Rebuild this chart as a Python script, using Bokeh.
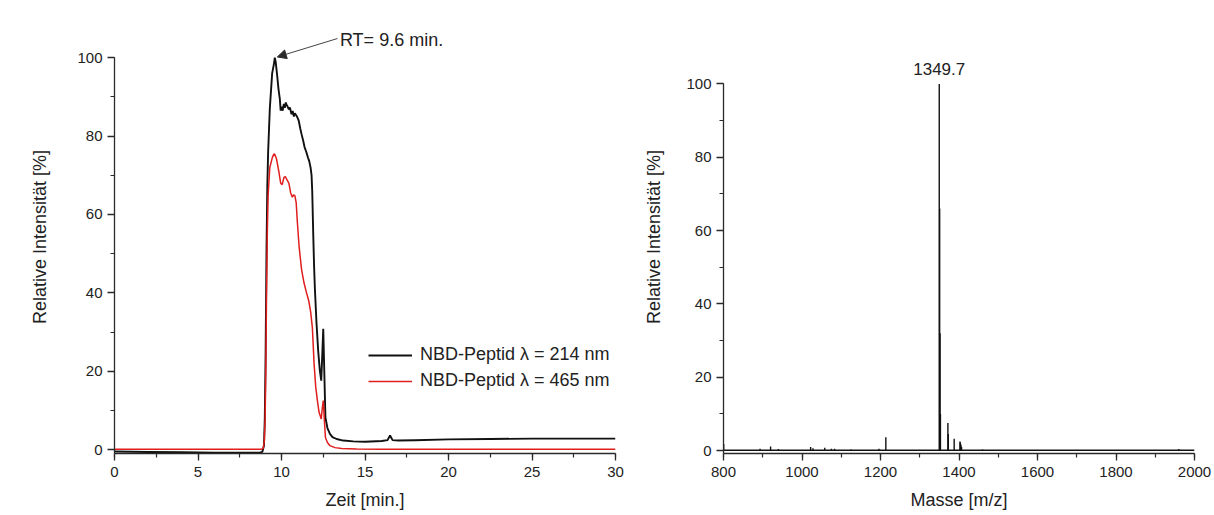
from bokeh.plotting import figure
from bokeh.layouts import row
from bokeh.models import (Range1d, SingleIntervalTicker, Label, Arrow, NormalHead)
from bokeh.embed import file_html
from bokeh.resources import INLINE

# ---------------- data: HPLC chromatogram ----------------
t214 = [0, 2, 4, 6, 8, 8.7, 8.85, 8.95, 9.0, 9.05, 9.1, 9.15, 9.2, 9.3, 9.44, 9.55, 9.6, 9.65,
        9.74, 9.82, 9.9, 9.95, 10.0, 10.07, 10.14, 10.2, 10.26, 10.3, 10.36, 10.44, 10.5, 10.6,
        10.67, 10.74, 10.8, 10.9, 10.97, 11.04, 11.12, 11.2, 11.3, 11.38, 11.48, 11.58, 11.66,
        11.74, 11.8, 11.84, 11.9, 11.95, 12.0, 12.1, 12.2, 12.3, 12.38, 12.44, 12.5, 12.55,
        12.63, 12.75, 12.9, 13.05, 13.3, 13.7, 14.3, 15.0, 16.0, 16.35, 16.5, 16.65, 17.0,
        18.0, 20.0, 22.5, 25.0, 27.5, 30.0]
a214 = [-0.5, -0.6, -0.7, -0.8, -0.8, -0.8, -0.6, 1, 8, 25, 50, 67, 76, 87, 96, 98.5, 100, 99,
        95.5, 92, 89.5, 86.5, 87.5, 86.5, 88.2, 87.2, 88.6, 88, 87.6, 86.8, 87.3, 85.6,
        86.4, 85.0, 85.8, 85.2, 84.6, 83.8, 82, 80.5, 78.8, 77.2, 76, 74.6, 73.6,
        72, 70, 66, 55, 47, 41, 32, 25, 20, 17.6, 24, 30.8, 22,
        8.2, 5.5, 4.0, 3.2, 2.7, 2.3, 2.1, 2.0, 2.2, 2.4, 3.6, 2.4, 2.3,
        2.4, 2.6, 2.7, 2.8, 2.8, 2.8]

t465 = [0, 5, 8.8, 8.9, 8.97, 9.02, 9.06, 9.1, 9.15, 9.2, 9.3, 9.45, 9.55, 9.6, 9.7, 9.84,
        9.95, 10.04, 10.15, 10.24, 10.33, 10.44, 10.55, 10.65, 10.72, 10.8, 10.88, 10.95,
        11.05, 11.2, 11.35, 11.5, 11.63, 11.75, 11.85, 11.95, 12.05, 12.15, 12.25, 12.38,
        12.44, 12.5, 12.56, 12.63, 12.75, 12.9, 13.2, 13.6, 14.5, 16, 20, 25, 30]
a465 = [0.1, 0.1, 0.1, 0.3, 2, 8, 20, 38, 55, 65, 72, 74.5, 75.5, 75.3, 74.2, 71,
        68, 67.6, 69.5, 69.6, 68.8, 68, 65.5, 64.4, 65.0, 64.8, 63, 58,
        52, 46, 42.5, 40, 38, 35, 31, 22, 16, 12.5, 9.5, 7.8,
        10.5, 12.5, 8, 3.1, 1.8, 1.0, 0.5, 0.3, 0.15, 0.1, 0.1, 0.1, 0.1]

legend_214 = "NBD-Peptid \u03bb = 214 nm"
legend_465 = "NBD-Peptid \u03bb = 465 nm"
rt_text = "RT= 9.6 min."

# ---------------- data: mass spectrum ----------------
ms_mz = [800.5, 893, 920, 940, 1022, 1028, 1058, 1075, 1083, 1125, 1196, 1213.6,
         1349.7, 1350.7, 1351.7, 1352.7, 1371.7, 1372.7, 1387.7, 1402.5, 1403.5,
         1405, 1406.5, 1460, 1960]
ms_int = [1.8, 0.5, 1.1, 0.4, 1.0, 0.6, 0.8, 0.5, 0.5, 0.3, 0.5, 3.6,
          100, 66, 32, 10, 7.5, 4.5, 3.2, 2.5, 2.2,
          1.6, 1.0, 0.3, 0.4]
ms_base_mz = [800, 2000]
ms_base_int = [0.1, 0.1]
peak_label = "1349.7"
peak_mz = 1349.7

FONT = "Liberation Sans"
TXT = "#222222"
AX = "#2a2a2a"


def style(p, xlabel, ylabel, xint, yint, ylab_standoff):
    p.xgrid.visible = False
    p.ygrid.visible = False
    p.outline_line_color = None
    p.background_fill_color = "white"
    p.border_fill_color = "white"
    p.xaxis.ticker = SingleIntervalTicker(interval=xint, num_minor_ticks=2)
    p.yaxis.ticker = SingleIntervalTicker(interval=yint, num_minor_ticks=2)
    for ax in (p.xaxis[0], p.yaxis[0]):
        ax.axis_line_color = AX
        ax.axis_line_width = 1.3
        ax.major_tick_line_color = AX
        ax.minor_tick_line_color = AX
        ax.major_tick_line_width = 1.3
        ax.minor_tick_line_width = 1.2
        ax.major_tick_in = 0
        ax.major_tick_out = 7
        ax.minor_tick_in = 0
        ax.minor_tick_out = 4
        ax.major_label_text_font = FONT
        ax.major_label_text_font_size = "15px"
        ax.major_label_text_color = TXT
        ax.major_label_standoff = 5
        ax.axis_label_text_font = FONT
        ax.axis_label_text_font_size = "18px"
        ax.axis_label_text_font_style = "normal"
        ax.axis_label_text_color = TXT
    p.xaxis.major_label_standoff = 6
    p.xaxis.axis_label = xlabel
    p.yaxis.axis_label = ylabel
    p.xaxis.axis_label_standoff = 10
    p.yaxis.axis_label_standoff = ylab_standoff


# ---------------- left: chromatogram ----------------
p1 = figure(width=640, height=515, output_backend="svg", toolbar_location=None,
            x_range=Range1d(0, 30), y_range=Range1d(-1, 109.5),
            min_border_left=114, min_border_right=25, min_border_top=20, min_border_bottom=62)
style(p1, "Zeit [min.]", "Relative Intensit\u00e4t [%]", 5, 20, 24)
p1.yaxis.bounds = (-1, 100)

p1.line(t214, a214, line_color="#111111", line_width=1.9, legend_label=legend_214)
p1.line(t465, a465, line_color="#e01e1e", line_width=1.5, legend_label=legend_465)

lg = p1.legend[0]
lg.location = (254, 62)
lg.border_line_color = None
lg.background_fill_alpha = 0
lg.padding = 0
lg.margin = 0
lg.spacing = 5
lg.glyph_width = 44
lg.glyph_height = 20
lg.label_height = 20
lg.label_standoff = 8
lg.label_text_font = FONT
lg.label_text_font_size = "18px"
lg.label_text_color = TXT

p1.add_layout(Arrow(end=NormalHead(size=9, fill_color=AX, line_color=AX),
                    x_start=13.35, y_start=104.9, x_end=9.75, y_end=100.2,
                    line_color="#444444", line_width=1))
p1.add_layout(Label(x=13.5, y=104.4, text=rt_text, text_font=FONT, text_font_size="18px",
                    text_color=TXT, text_baseline="middle", text_align="left"))

# ---------------- right: mass spectrum ----------------
p2 = figure(width=574, height=515, output_backend="svg", toolbar_location=None,
            x_range=Range1d(800, 2000), y_range=Range1d(-0.8, 117.3),
            min_border_left=83, min_border_right=20, min_border_top=20, min_border_bottom=62)
style(p2, "Masse [m/z]", "Relative Intensit\u00e4t [%]", 200, 20, 19)
p2.yaxis.bounds = (-0.8, 100)

p2.line(ms_base_mz, ms_base_int, line_color="#111111", line_width=1.4)
p2.segment(x0=ms_mz, y0=[0] * len(ms_mz), x1=ms_mz, y1=ms_int,
           line_color="#111111", line_width=1.4)
p2.add_layout(Label(x=peak_mz, y=104.0, text=peak_label, text_font=FONT, text_font_size="17px",
                    text_color=TXT, text_baseline="middle", text_align="center"))

layout = row(p1, p2)
open("out.html", "w").write(file_html(layout, INLINE))
